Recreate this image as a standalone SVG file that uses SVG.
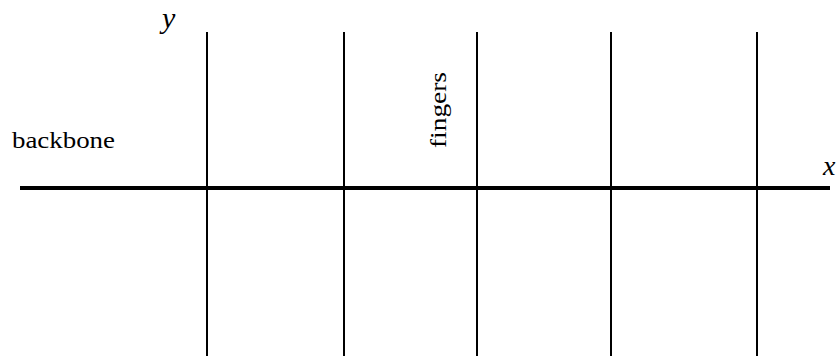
<svg xmlns="http://www.w3.org/2000/svg" width="838" height="359" viewBox="0 0 838 359">
<style>
.f{stroke:#000;stroke-width:2;fill:none}
.t{font-family:'Liberation Serif','Times New Roman','DejaVu Serif',serif;fill:#000}
.i{font-style:italic}
</style>
<rect width="838" height="359" fill="#fff"/>
<g id="connectors">
<line id="backbone-line" x1="20" y1="188" x2="830" y2="188" stroke="#000" stroke-width="4"/>
<line class="f" x1="207" y1="32" x2="207" y2="356"/>
<line class="f" x1="344" y1="32" x2="344" y2="356"/>
<line class="f" x1="477" y1="32" x2="477" y2="356"/>
<line class="f" x1="611" y1="32" x2="611" y2="356"/>
<line class="f" x1="757" y1="32" x2="757" y2="356"/>
</g>
<g id="label-backbone"><text class="t" x="12" y="148" font-size="24" textLength="103" lengthAdjust="spacingAndGlyphs">backbone</text></g>
<g id="label-fingers"><text class="t" transform="translate(446,148) rotate(-90)" font-size="24" textLength="76" lengthAdjust="spacingAndGlyphs">fingers</text></g>
<g id="label-y"><text class="t i" x="162" y="28" font-size="30">y</text></g>
<g id="label-x"><text class="t i" x="823" y="175" font-size="28">x</text></g>
</svg>
